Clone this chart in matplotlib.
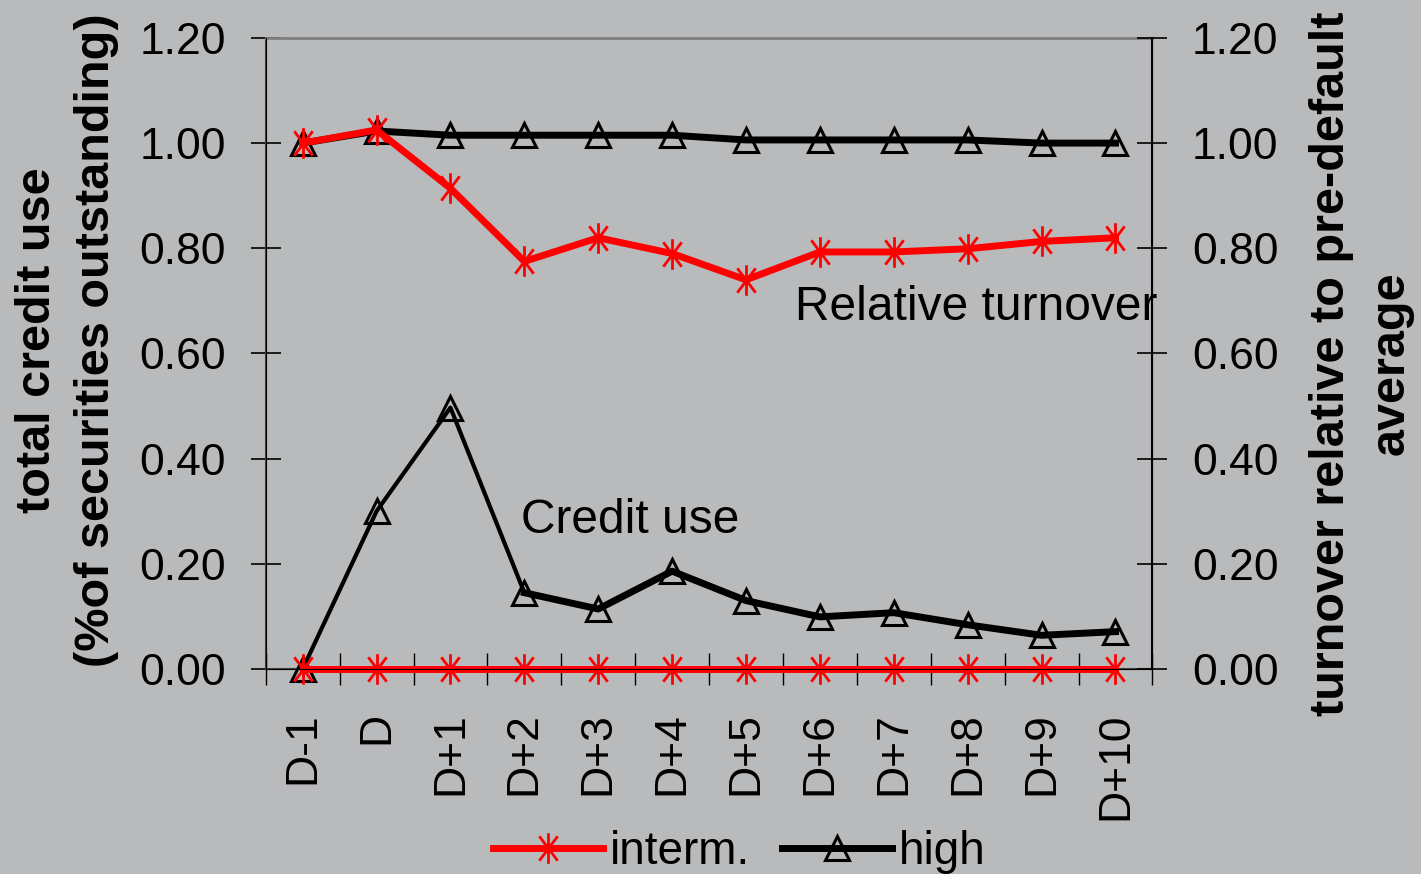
import numpy as np
import matplotlib
matplotlib.use("Agg")
import matplotlib.pyplot as plt
from matplotlib.path import Path

plt.rcParams['font.family'] = ['Liberation Sans', 'DejaVu Sans']

# categories (days around default)
days = ["D-1", "D", "D+1", "D+2", "D+3", "D+4", "D+5", "D+6", "D+7", "D+8", "D+9", "D+10"]

# credit use (% of securities outstanding)
credit_interm = [0.0, 0.0, 0.0, 0.0, 0.0, 0.0, 0.0, 0.0, 0.0, 0.0, 0.0, 0.0]
credit_high = [0.0, 0.30, 0.497, 0.145, 0.114, 0.186, 0.130, 0.099, 0.107, 0.084, 0.064, 0.071]

# turnover relative to pre-default average
turn_interm = [1.00, 1.025, 0.914, 0.775, 0.820, 0.790, 0.740, 0.793, 0.793, 0.799, 0.813, 0.820]
turn_high = [1.00, 1.023, 1.015, 1.015, 1.015, 1.015, 1.006, 1.006, 1.006, 1.006, 1.000, 1.000]

bg = "#b9babc"
red = "#ff0000"

# Excel-like star marker: vertical stroke plus an X
star = Path(
    [(0, -1), (0, 1), (-0.6, -0.8), (0.6, 0.8), (-0.6, 0.8), (0.6, -0.8)],
    [Path.MOVETO, Path.LINETO, Path.MOVETO, Path.LINETO, Path.MOVETO, Path.LINETO],
)

fig = plt.figure(figsize=(14.21, 8.74), dpi=100, facecolor=bg)
ax = fig.add_axes([0.187, 0.2346, 0.624, 0.722])
ax.set_facecolor(bg)
ax2 = ax.twinx()

x = np.arange(len(days))

# credit use on left axis (first segments drawn thinner, as in the original)
ax.plot(x[:4], credit_high[:4], color="black", lw=3.0, zorder=3, clip_on=False)
ax.plot(x[3:], credit_high[3:], color="black", lw=5.0, zorder=3, clip_on=False)
ax.plot(x, credit_high, ls="none", marker="^", ms=17,
        mfc="none", mec="black", mew=2.2, zorder=3, clip_on=False)
ax.plot(x, credit_interm, color=red, lw=5, marker=star, ms=22,
        mec=red, mew=2, zorder=4, clip_on=False)

# turnover on right axis
ax2.plot(x, turn_high, color="black", lw=5, marker="^", ms=17,
         mfc="none", mec="black", mew=2.2, zorder=3, label="high")
ax2.plot(x, turn_interm, color=red, lw=5, marker=star, ms=22,
         mec=red, mew=2, zorder=4, label="interm.")

for a in (ax, ax2):
    a.set_ylim(0, 1.2)
    a.set_xlim(-0.5, len(days) - 0.5)
    a.set_yticks(np.arange(0, 1.21, 0.2))
    a.set_yticklabels([f"{v:.2f}" for v in np.arange(0, 1.21, 0.2)])
    a.tick_params(axis="y", direction="inout", length=21, width=1.2,
                  pad=18, labelsize=32, colors="black")

ax.set_xticks(x)
ax.set_xticklabels(days, rotation=90, fontsize=32)
ax.set_xticks(np.arange(-0.5, len(days), 1), minor=True)
ax.tick_params(axis="x", which="major", length=0, pad=31)
ax.tick_params(axis="x", which="minor", direction="inout", length=23, width=1)

ax.spines["top"].set_color("#7f7f7f")
ax.spines["top"].set_linewidth(2)
ax.spines["left"].set_color("#404040")
ax.spines["left"].set_linewidth(1.5)
ax.spines["bottom"].set_color("#404040")
ax.spines["bottom"].set_linewidth(1.5)
ax2.spines["top"].set_visible(False)
ax2.spines["right"].set_color("black")
ax2.spines["right"].set_linewidth(1.5)

ax.text(6.665, 0.687, "Relative turnover", fontsize=34.5, ha="left", va="center")
ax.text(2.95, 0.283, "Credit use", fontsize=34.5, ha="left", va="center")

fig.text(0.047, 0.611, "total credit use\n(%of securities outstanding)",
         rotation=90, ha="center", va="center", ma="center",
         fontsize=35, fontweight="bold", linespacing=1.4)
fig.text(0.958, 0.584, "turnover relative to pre-default\naverage",
         rotation=90, ha="center", va="center", ma="center",
         fontsize=35, fontweight="bold", linespacing=1.4)

h, l = ax2.get_legend_handles_labels()
fig.legend(h[::-1], l[::-1], loc="center", bbox_to_anchor=(0.52, 0.025),
           ncol=2, frameon=False, fontsize=33, handlelength=2.4,
           handletextpad=0.15, columnspacing=0.7, markerscale=1.0)

fig.savefig("out.png", dpi=100, facecolor=bg)
